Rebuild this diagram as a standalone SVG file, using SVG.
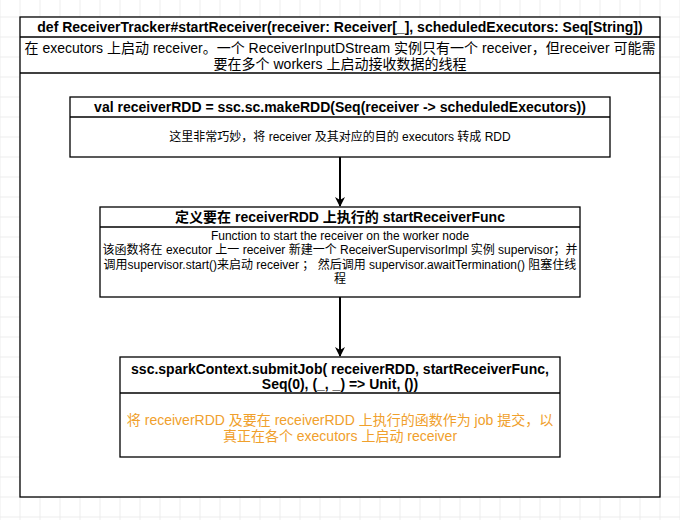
<svg xmlns="http://www.w3.org/2000/svg" width="680" height="520" viewBox="0 0 680 520">
  <defs>
    <pattern id="grid" x="19.5" y="16.5" width="20" height="20" patternUnits="userSpaceOnUse">
      <path d="M0 0.5H20M0.5 0V20" fill="none" stroke="#ececec" stroke-width="1"/>
    </pattern>
    <marker id="arrow" viewBox="0 0 10 10" refX="9" refY="5" markerWidth="5" markerHeight="5" markerUnits="strokeWidth" orient="auto">
      <path d="M0 0L10 5L0 10L3 5Z" fill="#000"/>
    </marker>
    <style>
      text { font-family: "Liberation Sans", Arial, "Noto Sans CJK SC", sans-serif; fill: #000; text-anchor: middle; }
      .h { font-size: 14px; font-weight: bold; }
      .b { font-size: 12px; }
      .d { font-size: 14px; }
      .o { font-size: 14px; fill: #F0A02C; }
      .box { fill: #fff; stroke: #000; stroke-width: 1.3; }
      .sep { stroke: #000; stroke-width: 1.3; }
      .conn { stroke: #000; stroke-width: 2; fill: none; }
    </style>
  </defs>
  <rect width="680" height="520" fill="#fff"/>
  <rect width="680" height="520" fill="url(#grid)"/>

  <g id="outer">
    <rect class="box" x="20" y="17" width="640" height="480"/>
    <line class="sep" x1="20" y1="37" x2="660" y2="37"/>
    <line class="sep" x1="20" y1="73" x2="660" y2="73"/>
    <text class="h" x="340" y="32">def ReceiverTracker#startReceiver(receiver: Receiver[_], scheduledExecutors: Seq[String])</text>
    <text class="d" x="340" y="52.5">在 executors 上启动 receiver。一个 ReceiverInputDStream 实例只有一个 receiver，但receiver 可能需</text>
    <text class="d" x="340" y="68.5">要在多个 workers 上启动接收数据的线程</text>
  </g>

  <g id="makeRDD">
    <rect class="box" x="70" y="97" width="540" height="60"/>
    <line class="sep" x1="70" y1="117" x2="610" y2="117"/>
    <text class="h" x="340" y="112">val receiverRDD = ssc.sc.makeRDD(Seq(receiver -&gt; scheduledExecutors))</text>
    <text class="b" x="340" y="141">这里非常巧妙，将 receiver 及其对应的目的 executors 转成 RDD</text>
  </g>

  <g id="startReceiverFunc">
    <rect class="box" x="100" y="207" width="480" height="90"/>
    <line class="sep" x1="100" y1="227" x2="580" y2="227"/>
    <text class="h" x="340" y="222">定义要在 receiverRDD 上执行的 startReceiverFunc</text>
    <text class="b" x="340" y="239.5">Function to start the receiver on the worker node</text>
    <text class="b" x="340" y="254">该函数将在 executor 上一 receiver 新建一个 ReceiverSupervisorImpl 实例 supervisor；并</text>
    <text class="b" x="340" y="268.5">调用supervisor.start()来启动 receiver ； 然后调用 supervisor.awaitTermination() 阻塞住线</text>
    <text class="b" x="340" y="283">程</text>
  </g>

  <g id="submitJob">
    <rect class="box" x="120" y="357" width="440" height="100"/>
    <line class="sep" x1="120" y1="393" x2="560" y2="393"/>
    <text class="h" x="340" y="374">ssc.sparkContext.submitJob( receiverRDD, startReceiverFunc,</text>
    <text class="h" x="340" y="389">Seq(0), (_, _) =&gt; Unit, ())</text>
    <text class="o" x="340" y="425">将 receiverRDD 及要在 receiverRDD 上执行的函数作为 job 提交，以</text>
    <text class="o" x="340" y="441">真正在各个 executors 上启动 receiver</text>
  </g>

  <g id="connectors">
    <line class="conn" x1="340" y1="157" x2="340" y2="206" marker-end="url(#arrow)"/>
    <line class="conn" x1="340" y1="297" x2="340" y2="356" marker-end="url(#arrow)"/>
  </g>
</svg>
